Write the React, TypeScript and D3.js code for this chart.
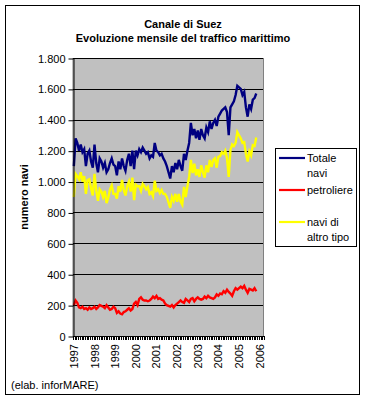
import React, { useEffect, useRef } from 'react';
import * as d3 from 'd3';

// Canale di Suez - monthly traffic, Jan 1997 .. Nov 2005 (axis runs to Mar 2006)

const years = ['1997', '1998', '1999', '2000', '2001', '2002', '2003', '2004', '2005', '2006'];
const yTicks = [0, 200, 400, 600, 800, 1000, 1200, 1400, 1600, 1800];
const nCategories = 111;

const totale = [
  1100, 1280, 1250, 1200, 1240, 1190, 1210, 1100, 1180, 1200, 1130, 1090,
  1240, 1120, 1060, 1150, 1130, 1090, 1120, 1060, 1080, 1120, 1150, 1110,
  1100, 1040, 1130, 1080, 1150, 1100, 1070, 1140, 1180, 1100, 1200, 1080,
  1200, 1170, 1210, 1190, 1220, 1200, 1180, 1190, 1150, 1170, 1160, 1250,
  1200, 1190, 1170, 1180, 1150, 1130, 1100, 1060, 1020, 1100, 1060, 1120,
  1080, 1140, 1100, 1070, 1180, 1140, 1200, 1250, 1380, 1300, 1340, 1280,
  1330, 1270, 1340, 1300, 1280, 1350, 1320, 1390, 1340, 1380, 1400, 1360,
  1420, 1440, 1460, 1470, 1480, 1450, 1300, 1480, 1500, 1520, 1560, 1620,
  1610, 1600, 1560, 1580, 1480, 1420, 1500, 1470, 1530, 1540, 1570,
];

const petroliere = [
  200, 230, 215, 185, 180, 190, 175, 180, 170, 185, 175, 180,
  190, 175, 185, 200, 195, 190, 180, 200, 185, 170, 175, 190,
  180, 150, 160, 145, 140, 155, 160, 170, 180, 165, 175, 210,
  220, 200, 240, 250, 235, 230, 230, 225, 230, 240, 255, 245,
  260, 240, 245, 235, 230, 210, 200, 195, 190, 200, 185, 200,
  210, 220, 230, 220, 215, 240, 230, 220, 240, 245, 225, 240,
  250, 240, 235, 240, 255, 245, 260, 250, 245, 240, 250, 270,
  260, 275, 270, 290, 280, 300, 285, 275, 260, 290, 310, 300,
  310, 320, 310, 325, 300, 280, 305, 300, 295, 310, 290,
];

const altroTipo = [
  900, 1050, 1035, 1015, 1060, 1000, 1035, 920, 1010, 1015, 955, 910,
  1050, 945, 875, 950, 935, 900, 940, 860, 895, 950, 975, 920,
  920, 890, 970, 935, 1010, 945, 910, 970, 1000, 935, 1025, 880,
  980, 970, 970, 940, 985, 970, 950, 965, 920, 930, 905, 1005,
  940, 950, 925, 945, 920, 920, 900, 865, 830, 900, 875, 920,
  870, 920, 870, 850, 965, 900, 970, 1030, 1140, 1055, 1115, 1040,
  1080, 1030, 1105, 1060, 1025, 1105, 1060, 1140, 1095, 1140, 1150, 1090,
  1160, 1165, 1190, 1180, 1200, 1150, 1030, 1205, 1240, 1230, 1250, 1320,
  1300, 1280, 1250, 1255, 1180, 1130, 1195, 1170, 1235, 1230, 1285,
];

const series = [
  { name: ['Totale', 'navi'], values: totale, color: '#000080' },
  { name: ['petroliere'], values: petroliere, color: '#FF0000' },
  { name: ['navi di', 'altro tipo'], values: altroTipo, color: '#FFFF00' },
];

const App = () => {
  const svgRef = useRef<SVGSVGElement>(null);

  useEffect(() => {
    const width = 366;
    const height = 401;
    const plot = { left: 73, right: 264, top: 58, bottom: 336 };
    const font = 'Arial, "Liberation Sans", sans-serif';

    const svg = d3.select(svgRef.current);
    svg.selectAll('*').remove();

    const fmt = d3.formatLocale({ decimal: ',', thousands: '.', grouping: [3], currency: ['', ''] }).format(',d');

    // outer frame
    svg.append('rect')
      .attr('x', 5.5).attr('y', 5.5)
      .attr('width', 354).attr('height', 389)
      .attr('fill', '#fff').attr('stroke', '#000');

    // title
    const title = svg.append('text')
      .attr('text-anchor', 'middle')
      .attr('font-family', font).attr('font-size', 11).attr('font-weight', 'bold');
    title.append('tspan').attr('x', 183).attr('y', 28).text('Canale di Suez');
    title.append('tspan').attr('x', 183).attr('y', 42).text('Evoluzione mensile del traffico marittimo');

    const xScale = d3.scaleLinear().domain([0, nCategories]).range([plot.left, plot.right]);
    const yScale = d3.scaleLinear().domain([0, 1800]).range([plot.bottom, plot.top]);

    // plot area
    svg.append('rect')
      .attr('x', plot.left).attr('y', plot.top + 0.5)
      .attr('width', plot.right - plot.left - 0.5).attr('height', plot.bottom - plot.top)
      .attr('fill', '#C0C0C0').attr('stroke', '#808080');

    // gridlines
    svg.append('g')
      .selectAll('line')
      .data(yTicks.filter(d => d > 0))
      .enter()
      .append('line')
      .attr('x1', plot.left).attr('x2', plot.right - 1)
      .attr('y1', d => Math.round(yScale(d)) + 0.5)
      .attr('y2', d => Math.round(yScale(d)) + 0.5)
      .attr('stroke', '#000');

    // series lines
    const line = d3.line<number>()
      .x((_, i) => xScale(i + 0.5))
      .y(d => yScale(d));

    series.forEach(s => {
      svg.append('path')
        .datum(s.values)
        .attr('d', line)
        .attr('fill', 'none')
        .attr('stroke', s.color)
        .attr('stroke-width', 2.4)
        .attr('stroke-linejoin', 'miter');
    });

    // y axis
    const yAxis = svg.append('g')
      .attr('transform', `translate(${plot.left + 0.5}, 0.5)`)
      .call(d3.axisLeft(yScale).tickValues(yTicks).tickSize(5).tickSizeOuter(0).tickPadding(3).tickFormat(d => fmt(d as number)));
    yAxis.selectAll('text').attr('font-family', font).attr('font-size', 11).attr('fill', '#000');
    yAxis.selectAll('line, path').attr('stroke', '#000');

    // x axis: tick at every month boundary
    const xAxis = svg.append('g');
    xAxis.append('line')
      .attr('x1', plot.left).attr('x2', plot.right)
      .attr('y1', plot.bottom + 0.5).attr('y2', plot.bottom + 0.5)
      .attr('stroke', '#000');
    xAxis.selectAll('line.tick')
      .data(d3.range(nCategories + 1))
      .enter()
      .append('line')
      .attr('class', 'tick')
      .attr('x1', d => Math.round(xScale(d)) + 0.5)
      .attr('x2', d => Math.round(xScale(d)) + 0.5)
      .attr('y1', plot.bottom)
      .attr('y2', plot.bottom + 4)
      .attr('stroke', '#000');
    xAxis.selectAll('text')
      .data(years)
      .enter()
      .append('text')
      .attr('transform', (_, i) => `translate(${xScale(i * 12 + 0.5) + 4}, 344) rotate(-90)`)
      .attr('text-anchor', 'end')
      .attr('font-family', font).attr('font-size', 11)
      .text(d => d);

    // y title
    svg.append('text')
      .attr('transform', `translate(28, ${(plot.top + plot.bottom) / 2}) rotate(-90)`)
      .attr('text-anchor', 'middle')
      .attr('font-family', font).attr('font-size', 11).attr('font-weight', 'bold')
      .text('numero navi');

    // legend
    svg.append('rect')
      .attr('x', 275.5).attr('y', 148.5)
      .attr('width', 81).attr('height', 98)
      .attr('fill', '#fff').attr('stroke', '#000');
    const legendRows = [158, 190, 222];
    series.forEach((s, i) => {
      const y0 = legendRows[i];
      svg.append('line')
        .attr('x1', 279).attr('x2', 305)
        .attr('y1', y0).attr('y2', y0)
        .attr('stroke', s.color).attr('stroke-width', 2.2);
      const t = svg.append('text')
        .attr('font-family', font).attr('font-size', 11);
      s.name.forEach((n, j) => {
        t.append('tspan').attr('x', 307).attr('y', y0 + 4 + j * 15).text(n);
      });
    });

    // footer
    svg.append('text')
      .attr('x', 11).attr('y', 389)
      .attr('font-family', font).attr('font-size', 11)
      .text('(elab. inforMARE)');

    svg.attr('width', width).attr('height', height);
  }, []);

  return (
    <svg
      ref={svgRef}
      width="366"
      height="401"
      style={{ position: 'absolute', left: 0, top: 0, display: 'block' }}
    />
  );
};

export default App;
